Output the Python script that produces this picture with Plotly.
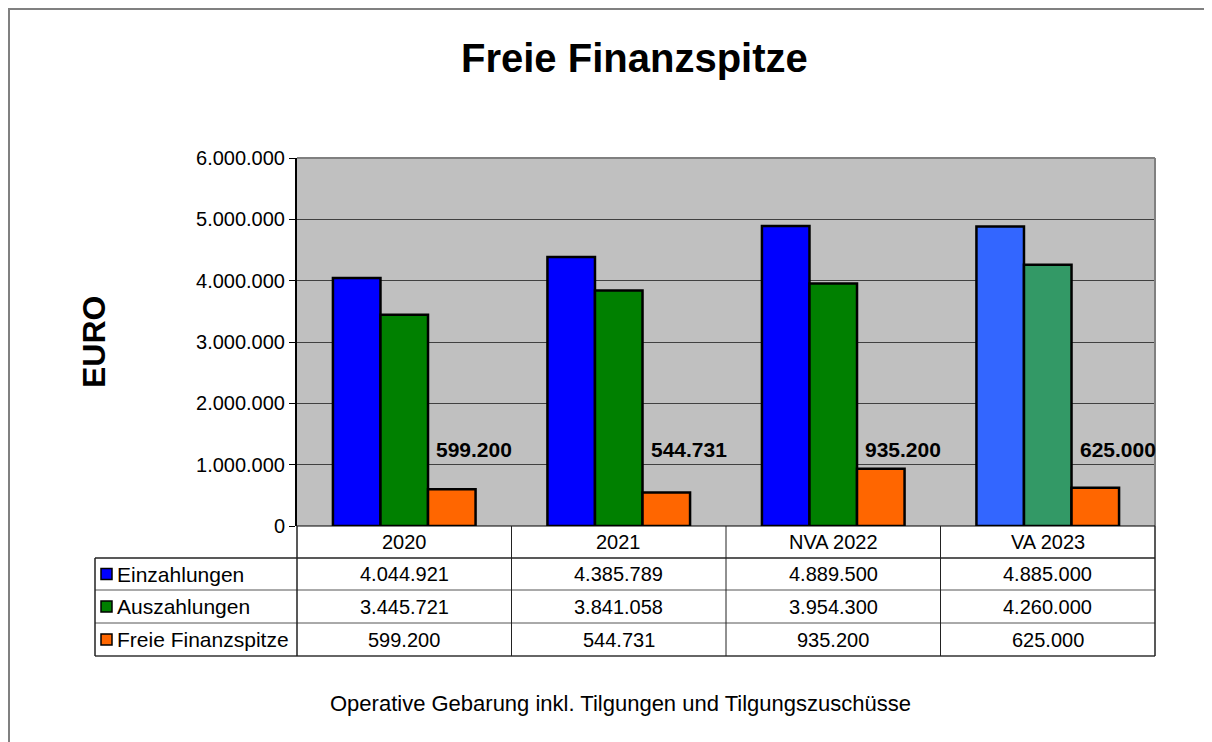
import plotly.graph_objects as go

categories = ["2020", "2021", "NVA 2022", "VA 2023"]
einzahlungen = [4044921, 4385789, 4889500, 4885000]
auszahlungen = [3445721, 3841058, 3954300, 4260000]
freie_finanzspitze = [599200, 544731, 935200, 625000]
series_names = ["Einzahlungen", "Auszahlungen", "Freie Finanzspitze"]
y_ticks = [0, 1000000, 2000000, 3000000, 4000000, 5000000, 6000000]

OFF = 8  # page body margin of the browser
W, H = 1212 - OFF, 742 - OFF
L, R, T, B = 297, 1155, 158, 526  # plot area in reference (window) pixels
FONT = "Liberation Sans, Arial, sans-serif"
FS = 21


def px(x):
    return (x - L) / (R - L)


def py(y):
    return (B - y) / (B - T)


def fmt(v):
    return f"{v:,}".replace(",", ".")


colors_e = ["#0000FF", "#0000FF", "#0000FF", "#3366FF"]
colors_a = ["#008000", "#008000", "#008000", "#339966"]
colors_f = ["#FF6600"] * 4
key_colors = ["#0000FF", "#008000", "#FF6600"]

fig = go.Figure()
for name, vals, cols in zip(series_names, [einzahlungen, auszahlungen, freie_finanzspitze],
                            [colors_e, colors_a, colors_f]):
    fig.add_trace(go.Bar(x=categories, y=vals, name=name,
                         marker=dict(color=cols, line=dict(color="black", width=2.5)),
                         hoverinfo="skip"))

fig.update_layout(
    width=W, height=H,
    margin=dict(l=L - OFF, r=W - (R - OFF), t=T - OFF, b=H - (B - OFF), pad=0),
    paper_bgcolor="white", plot_bgcolor="#C0C0C0",
    barmode="group", bargap=0.335, bargroupgap=0,
    showlegend=False, separators=",.",
    font=dict(family=FONT, color="black", size=FS),
)
fig.update_xaxes(type="category", showticklabels=False, showgrid=False, showline=False, ticks="",
                 range=[-0.5, 3.5], zeroline=False)
fig.update_yaxes(range=[0, 6000000], tickvals=y_ticks, tickformat=",d",
                 showgrid=True, gridcolor="#404040", gridwidth=1,
                 showline=True, linecolor="black", linewidth=2,
                 ticks="outside", ticklen=6, tickcolor="black", tickwidth=1,
                 zeroline=False, tickfont=dict(size=20))

shapes = []
# plot area border (top/right gray)
shapes.append(dict(type="line", xref="paper", yref="paper", x0=0, x1=1, y0=1, y1=1,
                   line=dict(color="#808080", width=2)))
shapes.append(dict(type="line", xref="paper", yref="paper", x0=1, x1=1, y0=0, y1=1,
                   line=dict(color="#808080", width=2)))
shapes.append(dict(type="line", xref="paper", yref="paper", x0=0, x1=1, y0=0, y1=0,
                   line=dict(color="black", width=1)))
# outer chart border (left/top)
shapes.append(dict(type="line", xref="paper", yref="paper", x0=px(OFF + 1), x1=px(OFF + 1), y0=py(OFF), y1=py(760),
                   line=dict(color="#808080", width=2)))
shapes.append(dict(type="line", xref="paper", yref="paper", x0=px(OFF), x1=px(1230), y0=py(OFF + 1), y1=py(OFF + 1),
                   line=dict(color="#808080", width=2)))

# data table grid
row_tops = [526, 558, 590, 623, 656]
tab_left = 95
line_c = "#222222"
shapes.append(dict(type="line", xref="paper", yref="paper", x0=px(tab_left), x1=1,
                   y0=py(558), y1=py(558), line=dict(color=line_c, width=1.5)))
shapes.append(dict(type="line", xref="paper", yref="paper", x0=px(tab_left), x1=1,
                   y0=py(590), y1=py(590), line=dict(color="#555555", width=1)))
shapes.append(dict(type="line", xref="paper", yref="paper", x0=px(tab_left), x1=1,
                   y0=py(623), y1=py(623), line=dict(color="#555555", width=1)))
shapes.append(dict(type="line", xref="paper", yref="paper", x0=px(tab_left), x1=1,
                   y0=py(656), y1=py(656), line=dict(color="#666666", width=2)))
shapes.append(dict(type="line", xref="paper", yref="paper", x0=px(tab_left), x1=px(tab_left),
                   y0=py(558), y1=py(656), line=dict(color=line_c, width=1.5)))
for i in range(len(categories) + 1):
    xv = px(L + i * (R - L) / len(categories))
    shapes.append(dict(type="line", xref="paper", yref="paper", x0=xv, x1=xv,
                       y0=py(526), y1=py(656), line=dict(color=line_c, width=1.5 if i in (0, 4) else 1)))

annotations = []
# title and axis title
annotations.append(dict(x=px(634), xref="paper", y=py(58), yref="paper", text="<b>Freie Finanzspitze</b>",
                        showarrow=False, font=dict(size=40), xanchor="center", yanchor="middle"))
annotations.append(dict(x=px(94), xref="paper", y=py(342), yref="paper", text="<b>EURO</b>",
                        showarrow=False, font=dict(size=32), textangle=-90,
                        xanchor="center", yanchor="middle"))

all_series = [einzahlungen, auszahlungen, freie_finanzspitze]
for ci, cat in enumerate(categories):
    annotations.append(dict(x=ci, xref="x", y=py(542), yref="paper", text=cat,
                            showarrow=False, font=dict(size=FS - 1), xanchor="center", yanchor="middle"))
    for ri, vals in enumerate(all_series):
        yc = (row_tops[ri + 1] + row_tops[ri + 2]) / 2
        annotations.append(dict(x=ci, xref="x", y=py(yc), yref="paper", text=fmt(vals[ci]),
                                showarrow=False, font=dict(size=FS - 1), xanchor="center", yanchor="middle"))
for ri, name in enumerate(series_names):
    yc = (row_tops[ri + 1] + row_tops[ri + 2]) / 2
    annotations.append(dict(x=px(115), xref="paper", y=py(yc), yref="paper", text=name,
                            showarrow=False, font=dict(size=FS), xanchor="left", yanchor="middle"))
    shapes.append(dict(type="rect", xref="paper", yref="paper", x0=px(101), x1=px(112),
                       y0=py(yc - 5.5), y1=py(yc + 5.5), fillcolor=key_colors[ri],
                       line=dict(color="black", width=1.5)))

# data labels for Freie Finanzspitze
for ci, cat in enumerate(categories):
    annotations.append(dict(x=ci, xref="x", y=1250000, yref="y",
                            text="<b>" + fmt(freie_finanzspitze[ci]) + "</b>",
                            showarrow=False, font=dict(size=FS), xanchor="center", yanchor="middle",
                            xshift=70))

annotations.append(dict(x=px(620), xref="paper", y=py(703), yref="paper",
                        text="Operative Gebarung inkl. Tilgungen und Tilgungszuschüsse",
                        showarrow=False, font=dict(size=22), xanchor="center", yanchor="middle"))

fig.update_layout(shapes=shapes, annotations=annotations)
fig.write_html("out.html")
